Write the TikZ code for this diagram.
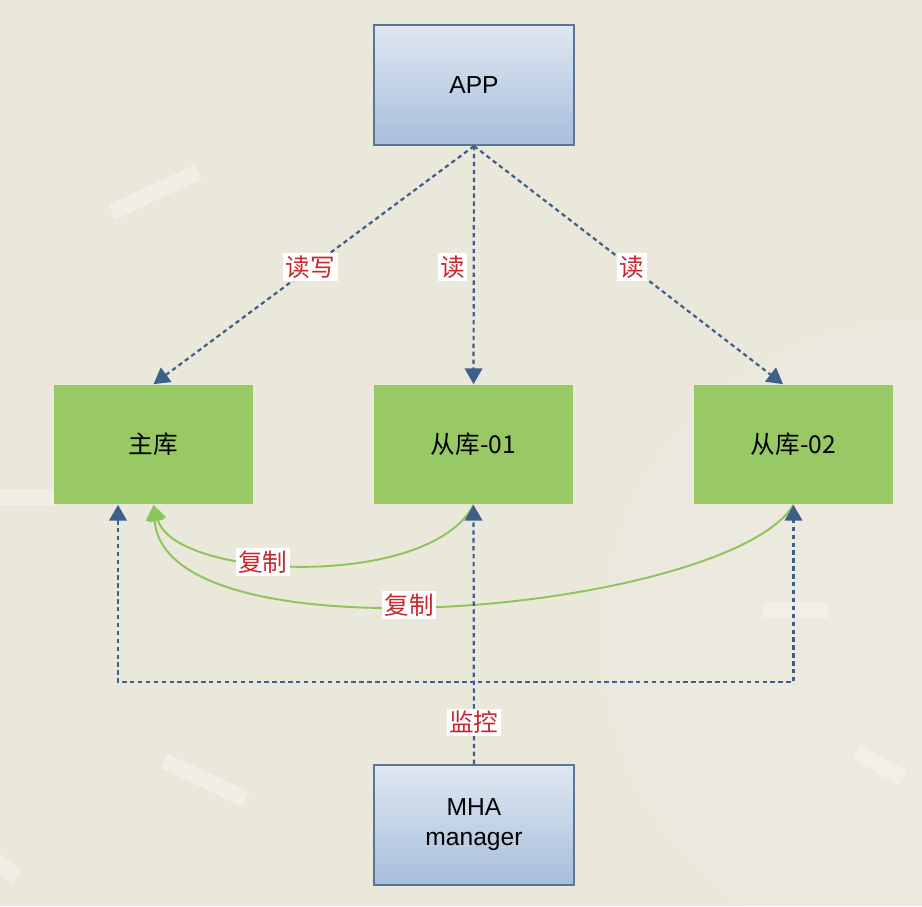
\documentclass[tikz,border=0pt]{standalone}
\usepackage{fontspec}
\setmainfont{Liberation Sans}
\newfontfamily\cjk{Noto Sans CJK SC}
\usetikzlibrary{positioning,arrows.meta}

\definecolor{bgcol}{HTML}{EAE7DB}
\definecolor{boxtop}{HTML}{DFE7F2}
\definecolor{boxbot}{HTML}{A8BEDB}
\definecolor{boxline}{HTML}{5B7597}
\definecolor{dbgreen}{HTML}{98C965}
\definecolor{copygreen}{HTML}{8DC45B}
\definecolor{linkblue}{HTML}{3E5F8A}
\definecolor{lblred}{HTML}{C8282E}

\begin{document}
\begin{tikzpicture}[x=0.02cm, y=-0.02cm,
  font=\fontsize{14}{17}\selectfont,
  bluebox/.style={draw=boxline, line width=1.2pt, top color=boxtop, bottom color=boxbot,
    minimum width=4cm, minimum height=2.4cm, align=center},
  dbbox/.style={fill=dbgreen, minimum width=4cm, minimum height=2.4cm, font=\fontsize{14}{17}\selectfont\cjk},
  readline/.style={draw=linkblue, line width=1.25pt, dash pattern=on 2.5pt off 2pt,
    -{Triangle[width=10pt,length=9pt]}},
  copyline/.style={draw=copygreen, line width=1.1pt, -{Triangle[width=10pt,length=9pt,fill=copygreen]}},
  lbl/.style={fill=white, text=lblred, inner sep=1.5pt, font=\fontsize{14}{17}\selectfont\cjk}
]

% Background
\fill[bgcol] (0,0) rectangle (922,906);
\useasboundingbox (0,0) rectangle (922,906);
\fill[white, opacity=0.08] (922,640) circle[radius=320];
\fill[white, opacity=0.08] (922,640) circle[radius=250];
\foreach \x/\y/\w/\a in {155/192/95/25, 795/610/65/0, 880/765/55/-30, 205/780/90/-25, 25/497/60/0, 5/868/30/-40} {
  \fill[white, opacity=0.3, rotate around={\a:(\x,\y)}] (\x-\w/2,\y-8) rectangle (\x+\w/2,\y+8);
}

% Boxes
\node[bluebox] (app) at (474,85) {APP};
\node[dbbox] (master) at (153.5,444.5) {主库};
\node[dbbox] (slave1) at (473.5,444.5) {从库-01};
\node[dbbox] (slave2) at (793.5,444.5) {从库-02};
\node[bluebox] (mha) at (474,825) {MHA\\manager};

% Replication
\draw[copyline] (slave1.south) .. controls (430,590) and (175,580) .. node[lbl, pos=0.6] {复制} (master.south);
\draw[copyline] (slave2.south) .. controls (730,610) and (165,665) .. node[lbl, pos=0.55] {复制} (master.south);

% Read / write
\draw[readline] (app.south) -- node[lbl, pos=0.51] {读写} (master.north);
\draw[readline] (app.south) -- node[lbl, pos=0.51, left=3pt] {读} (slave1.north);
\draw[readline] (app.south) -- node[lbl, pos=0.51] {读} ([xshift=-0.21cm]slave2.north);

% Monitoring
\coordinate (monl) at (118,682);
\coordinate (monr) at (slave2.south |- monl);
\draw[readline, {Triangle[width=10pt,length=9pt]}-{Triangle[width=10pt,length=9pt]}]
  (monl |- master.south) -- (monl) -- (monr) -- (slave2.south);
\draw[readline] (mha.north) -- node[lbl, pos=0.16] {监控} (slave1.south);

\end{tikzpicture}
\end{document}
